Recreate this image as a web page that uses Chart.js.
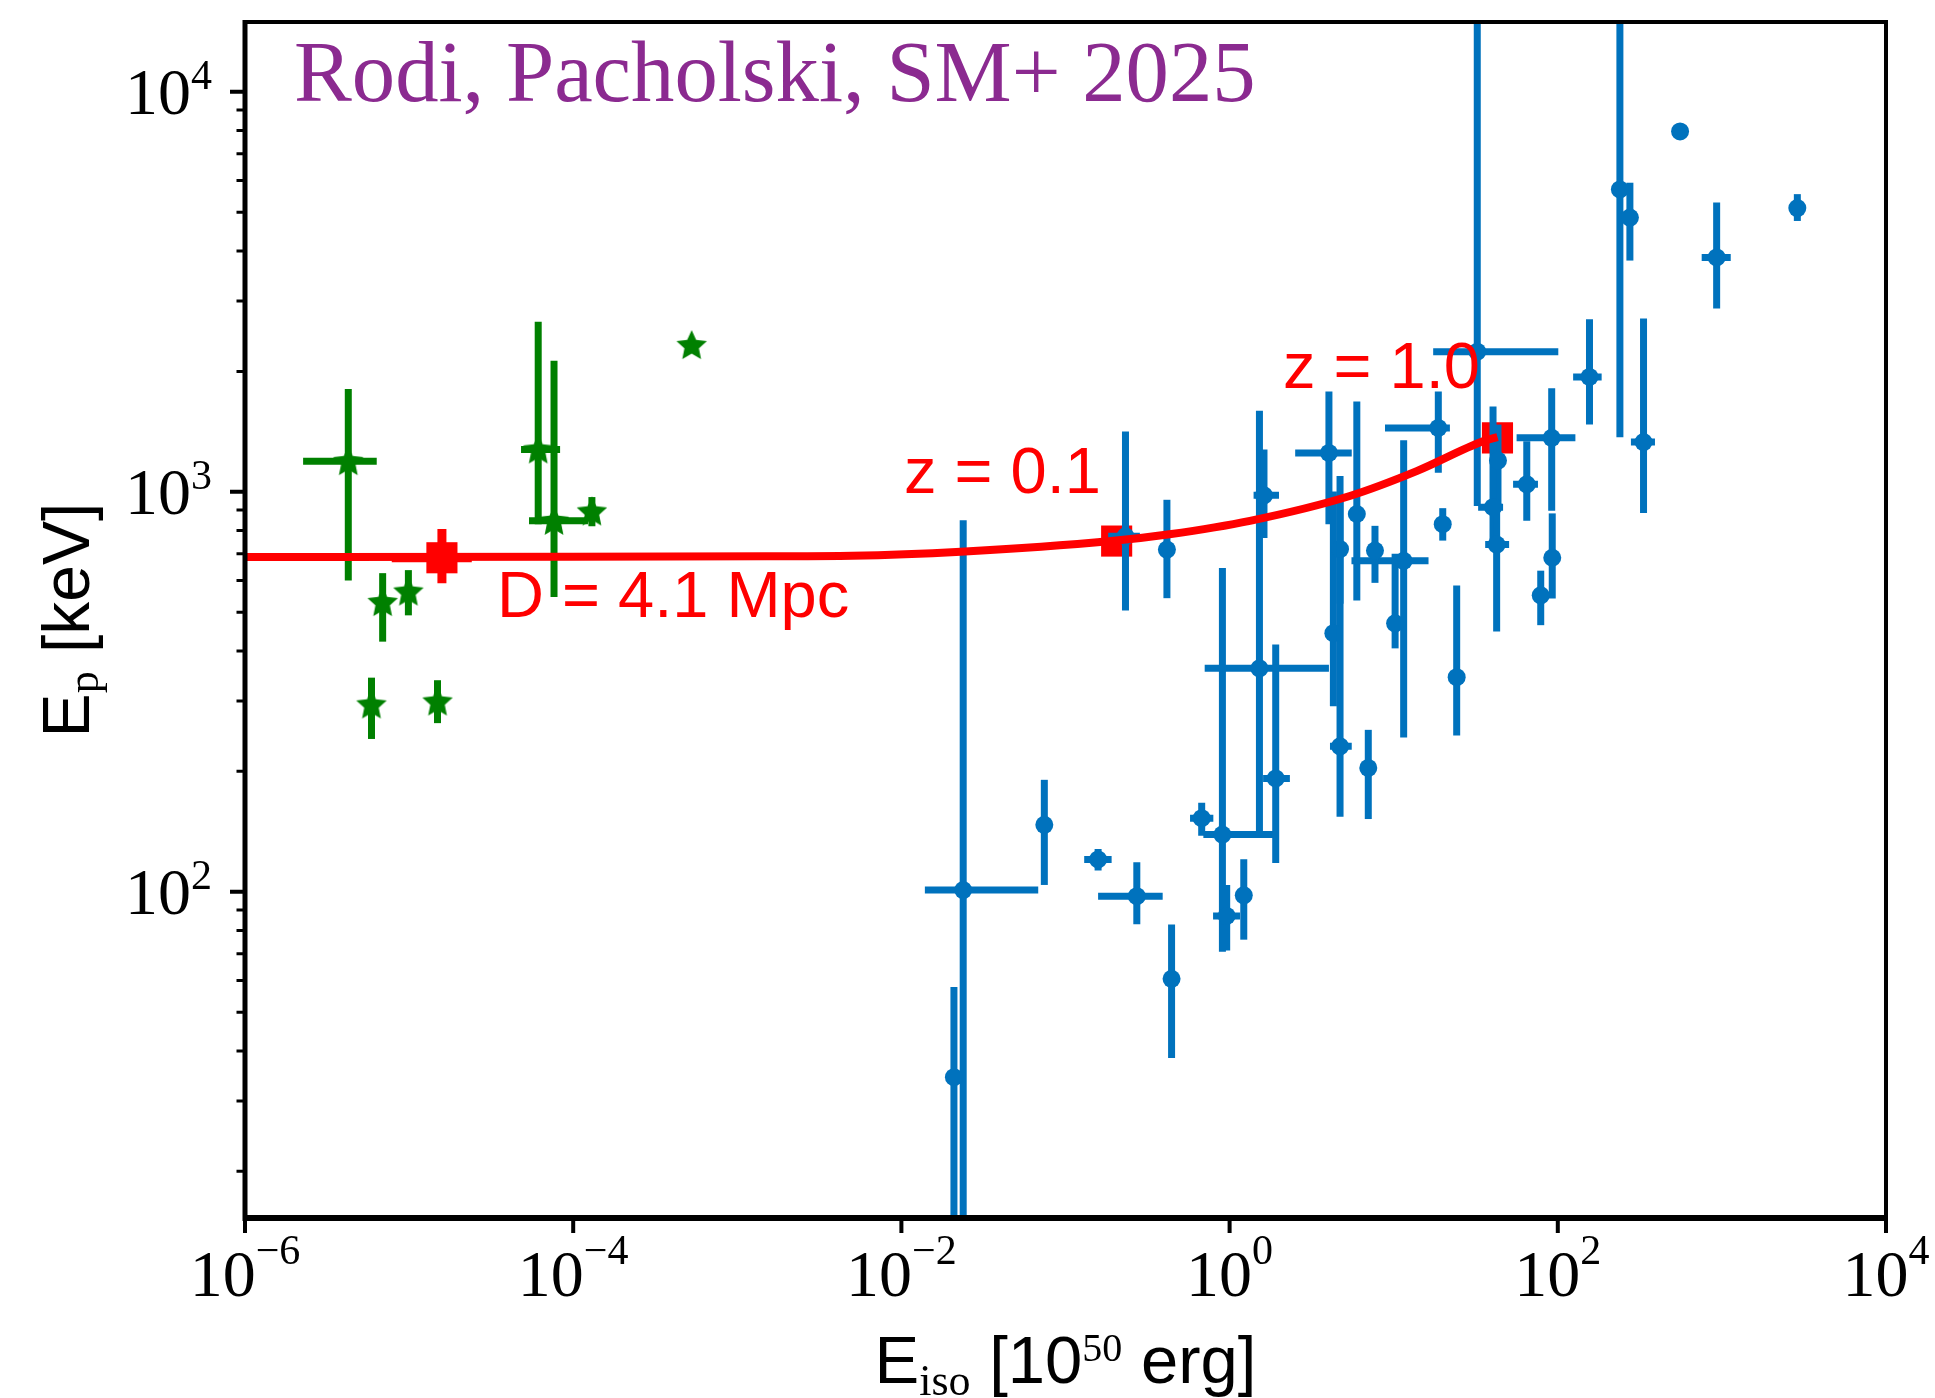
<!DOCTYPE html>
<html>
<head>
<meta charset="utf-8">
<title>Ep - Eiso</title>
<script src="https://cdn.jsdelivr.net/npm/chart.js@4.4.1/dist/chart.umd.min.js"></script>
<style>
  html, body { margin: 0; padding: 0; background: #fff; overflow: hidden; }
  #wrap { width: 1935px; height: 1398px; position: relative; }
</style>
</head>
<body>
<div id="wrap"><canvas id="epChart"></canvas></div>
<script>
// --- magnetar giant flares (green stars) ---
var gfE    = [4.26e-6, 6.9e-6, 9.9e-6, 5.9e-6, 1.49e-5, 6.12e-5, 7.64e-5, 1.30e-4, 5.27e-4];
var gfEp   = [1193, 530, 563, 294, 299, 1276, 846, 893, 2327];
var gfElo  = [2.26e-6, null, null, null, null, 4.81e-5, 5.38e-5, null, null];
var gfEhi  = [6.35e-6, null, null, null, null, 8.32e-5, 1.23e-4, null, null];
var gfEplo = [600, 422, 491, 241, 264, 830, 546, 820, null];
var gfEphi = [1808, 626, 637, 343, 338, 2660, 2127, 970, null];

// --- short GRBs (blue points) ---
var sgE    = [0.0238, 0.0209, 0.0743, 0.158, 0.272, 0.443, 0.415, 0.232, 0.676, 0.904,
              1.91, 1.52, 1.62, 0.96, 1.22, 4.03, 4.71, 4.29, 4.71, 5.96,
              11.5, 10.2, 19.9, 18.7, 24.2, 32.3, 43.2, 40.3, 42.4, 64.7,
              91.8, 92.5, 78.7, 7.69, 7.0, 156, 333, 239, 275, 556, 929, 2882];
var sgEp   = [101, 34.4, 147, 120.5, 97.5, 60.6, 717, 774, 152.8, 139,
              192, 362, 980, 87, 98, 1251, 719, 443, 231, 880,
              672, 469, 830, 1444, 344, 2240, 1197, 915, 738, 1044,
              1364, 684, 551, 713, 204, 1937, 1331, 5700, 4849, 7960, 3854, 5119];
var sgElo  = [0.0139, null, null, 0.130, 0.158, null, null, 0.182, 0.574, 0.692,
              1.60, 0.705, 1.40, 0.793, null, 2.51, null, null, 4.09, null,
              5.53, null, null, 8.85, null, 17.4, null, 32.7, 36.1, 53.4,
              56.1, null, null, null, null, 124, 279, null, null, null, 753, null];
var sgEhi  = [0.0682, null, null, 0.191, 0.391, null, null, 0.284, 0.796, 1.85,
              2.33, 4.03, 2.00, 1.157, null, 5.55, null, null, 5.55, null,
              16.3, null, null, 22.0, null, 100.7, null, 46.4, 50.5, 75.7,
              128, null, null, null, null, 185, 391, null, null, null, 1132, null];
var sgEplo = [5, 5, 104, 113, 83, 38.4, 542, 505, 138, 70.8,
              118, 138, 766, 71.3, 75.9, 830, 525, 291, 154, 535,
              243, 406, 755, 1116, 246, 922, 931, 741, 447.5, 846,
              896, 541, 464, 592, 152, 1474, 885, 1369, 3785, null, 2871, 4754];
var sgEphi = [849, 57.8, 190.5, 128, 118.6, 82.8, 955, 1414, 167, 645,
              415, 1594, 1275, 104, 120.6, 1780, 986, 1002, 1095, 1682,
              1345, 700, 910, 1780, 583, 30000, 1472, 1634, 931, 1338,
              1815, 883, 635, 822, 254, 2698, 2710, 30000, 5925, null, 5285, 5548];

// --- red markers: D = 4.1 Mpc, z = 0.1, z = 1.0 ---
var zE    = [1.585e-5, 0.205, 42.9];
var zEp   = [684, 753, 1364];
var zElo  = [7.84e-6, null, null];
var zEhi  = [2.41e-5, null, null];
var zEplo = [591, null, null];
var zEphi = [807, null, null];

// --- red track ---
var trackE  = [1e-6, 1e-4, 1.5e-3, 5e-3, 0.023, 0.19, 0.43, 1.33, 5.4, 13.8, 35, 42.9];
var trackEp = [687, 688, 690, 692, 708, 753, 783, 846, 976, 1126, 1337, 1370];

// --- axes ---
var xTicks = [1e-6, 1e-4, 1e-2, 1, 1e2, 1e4];
var xTickExp = ["\u22126", "\u22124", "\u22122", "0", "2", "4"];
var yTicks = [100, 1000, 10000];
var yTickExp = ["2", "3", "4"];
var yMinor = [20, 30, 40, 50, 60, 70, 80, 90, 200, 300, 400, 500, 600, 700, 800, 900,
              2000, 3000, 4000, 5000, 6000, 7000, 8000, 9000];

var BLUE = "#0072BD", GREEN = "#008000", RED = "#FF0000", PURPLE = "#8B2A90";
var SANS = '"Liberation Sans", Arial, sans-serif';
var SERIF = '"Liberation Serif", "DejaVu Serif", serif';

function pts(xs, ys) {
  return xs.map(function (x, i) { return { x: x, y: ys[i] }; });
}

// matplotlib-like filled star marker
var starImg = (function () {
  var c = document.createElement("canvas");
  c.width = 36; c.height = 36;
  var g = c.getContext("2d");
  g.fillStyle = GREEN;
  g.beginPath();
  for (var k = 0; k < 10; k++) {
    var r = k % 2 === 0 ? 16 : 7.6;
    var a = -Math.PI / 2 + k * Math.PI / 5;
    var px = 18 + r * Math.cos(a), py = 19 + r * Math.sin(a);
    if (k === 0) g.moveTo(px, py); else g.lineTo(px, py);
  }
  g.closePath();
  g.fill();
  return c;
})();

// error bars per dataset index
var errorSets = {
  1: { xlo: gfElo, xhi: gfEhi, ylo: gfEplo, yhi: gfEphi, color: GREEN, width: 7 },
  2: { xlo: sgElo, xhi: sgEhi, ylo: sgEplo, yhi: sgEphi, color: BLUE, width: 7 },
  3: { xlo: zElo, xhi: zEhi, ylo: zEplo, yhi: zEphi, color: RED, width: 9 }
};

var errorBarPlugin = {
  id: "errorBars",
  beforeDatasetDraw: function (chart, args) {
    var e = errorSets[args.index];
    if (!e) return;
    var xs = chart.scales.x, ys = chart.scales.y, ctx = chart.ctx, a = chart.chartArea;
    var data = chart.data.datasets[args.index].data;
    ctx.save();
    ctx.beginPath();
    ctx.rect(a.left, a.top, a.right - a.left, a.bottom - a.top);
    ctx.clip();
    ctx.strokeStyle = e.color;
    ctx.lineWidth = e.width;
    ctx.lineCap = "butt";
    for (var i = 0; i < data.length; i++) {
      var px = xs.getPixelForValue(data[i].x), py = ys.getPixelForValue(data[i].y);
      ctx.beginPath();
      if (e.xlo[i] != null) {
        ctx.moveTo(xs.getPixelForValue(e.xlo[i]), py);
        ctx.lineTo(xs.getPixelForValue(e.xhi[i]), py);
      }
      if (e.ylo[i] != null) {
        ctx.moveTo(px, ys.getPixelForValue(e.ylo[i]));
        ctx.lineTo(px, ys.getPixelForValue(e.yhi[i]));
      }
      ctx.stroke();
    }
    ctx.restore();
  }
};

// draw a row of text pieces (for sub/superscripts)
function drawRuns(ctx, parts, x, y, align) {
  var total = 0;
  parts.forEach(function (p) { ctx.font = p.font; p.w = ctx.measureText(p.t).width; total += p.w; });
  var cx = align === "center" ? x - total / 2 : align === "right" ? x - total : x;
  parts.forEach(function (p) {
    ctx.font = p.font;
    ctx.fillText(p.t, cx, y + (p.dy || 0));
    cx += p.w;
  });
}

var framePlugin = {
  id: "frame",
  afterDraw: function (chart) {
    var ctx = chart.ctx, a = chart.chartArea, xs = chart.scales.x, ys = chart.scales.y;
    ctx.save();
    ctx.strokeStyle = "#000";
    ctx.lineCap = "butt";

    // ticks
    ctx.lineWidth = 4;
    ctx.beginPath();
    yTicks.forEach(function (v) {
      var py = ys.getPixelForValue(v);
      ctx.moveTo(a.left - 15, py); ctx.lineTo(a.left, py);
    });
    xTicks.forEach(function (v) {
      var px = xs.getPixelForValue(v);
      ctx.moveTo(px, a.bottom); ctx.lineTo(px, a.bottom + 15);
    });
    ctx.stroke();
    ctx.lineWidth = 3;
    ctx.beginPath();
    yMinor.forEach(function (v) {
      var py = ys.getPixelForValue(v);
      ctx.moveTo(a.left - 8.5, py); ctx.lineTo(a.left, py);
    });
    ctx.stroke();

    // frame
    ctx.lineWidth = 5;
    ctx.beginPath(); ctx.moveTo(a.left, a.top - 2); ctx.lineTo(a.left, a.bottom + 3); ctx.stroke();
    ctx.lineWidth = 6;
    ctx.beginPath(); ctx.moveTo(a.left - 2, a.bottom); ctx.lineTo(a.right + 2, a.bottom); ctx.stroke();
    ctx.lineWidth = 4;
    ctx.beginPath(); ctx.moveTo(a.left - 2, a.top); ctx.lineTo(a.right + 2, a.top); ctx.stroke();
    ctx.beginPath(); ctx.moveTo(a.right, a.top); ctx.lineTo(a.right, a.bottom); ctx.stroke();

    // tick labels
    ctx.fillStyle = "#000";
    ctx.textAlign = "left";
    ctx.textBaseline = "alphabetic";
    xTicks.forEach(function (v, i) {
      drawRuns(ctx, [
        { t: "10", font: "66px " + SERIF },
        { t: xTickExp[i], font: "42px " + SERIF, dy: -32 }
      ], xs.getPixelForValue(v), a.bottom + 78, "center");
    });
    yTicks.forEach(function (v, i) {
      drawRuns(ctx, [
        { t: "10", font: "66px " + SERIF },
        { t: yTickExp[i], font: "42px " + SERIF, dy: -25 }
      ], a.left - 33, ys.getPixelForValue(v) + 22, "right");
    });

    // x title
    drawRuns(ctx, [
      { t: "E", font: "67px " + SANS },
      { t: "iso", font: "44px " + SERIF, dy: 12 },
      { t: " [10", font: "67px " + SANS },
      { t: "50", font: "40px " + SERIF, dy: -22 },
      { t: " erg]", font: "67px " + SANS }
    ], (a.left + a.right) / 2, 1383, "center");

    // y title
    ctx.save();
    ctx.translate(89, (a.top + a.bottom) / 2);
    ctx.rotate(-Math.PI / 2);
    drawRuns(ctx, [
      { t: "E", font: "66px " + SANS },
      { t: "p", font: "44px " + SERIF, dy: 9 },
      { t: " [keV]", font: "66px " + SANS }
    ], 0, 0, "center");
    ctx.restore();

    // annotations
    ctx.fillStyle = RED;
    ctx.font = "65px " + SANS;
    ctx.fillText("z = 0.1", 904, 493);
    ctx.fillText("z = 1.0", 1283, 388);
    ctx.fillText("D = 4.1 Mpc", 497, 617);

    // credit line
    ctx.fillStyle = PURPLE;
    var credit = "Rodi, Pacholski, SM+ 2025";
    ctx.font = "84px " + SERIF;
    var size = 84 * 962 / ctx.measureText(credit).width;
    ctx.font = size.toFixed(1) + "px " + SERIF;
    ctx.fillText(credit, 294, 101);

    ctx.restore();
  }
};

new Chart(document.getElementById("epChart"), {
  type: "scatter",
  data: {
    datasets: [
      {
        label: "track",
        data: pts(trackE, trackEp),
        showLine: true,
        borderColor: RED,
        borderWidth: 8,
        pointRadius: 0,
        cubicInterpolationMode: "monotone",
        fill: false,
        order: 0
      },
      {
        label: "giant flares",
        data: pts(gfE, gfEp),
        pointStyle: starImg,
        pointRadius: 16,
        order: 1
      },
      {
        label: "short GRBs",
        data: pts(sgE, sgEp),
        pointStyle: "circle",
        pointRadius: 9,
        pointBackgroundColor: BLUE,
        pointBorderWidth: 0,
        order: 2
      },
      {
        label: "distance markers",
        data: pts(zE, zEp),
        pointStyle: "rect",
        pointRadius: 22,
        pointBackgroundColor: RED,
        pointBorderWidth: 0,
        order: 3
      }
    ]
  },
  options: {
    responsive: true,
    maintainAspectRatio: false,
    animation: false,
    events: [],
    layout: { padding: { left: 245, right: 49, top: 15, bottom: 180 } },
    plugins: { legend: { display: false }, tooltip: { enabled: false } },
    scales: {
      x: { type: "logarithmic", min: 1e-6, max: 1e4, display: false },
      y: { type: "logarithmic", min: 15.29, max: 14945, display: false }
    }
  },
  plugins: [errorBarPlugin, framePlugin]
});
</script>
</body>
</html>
